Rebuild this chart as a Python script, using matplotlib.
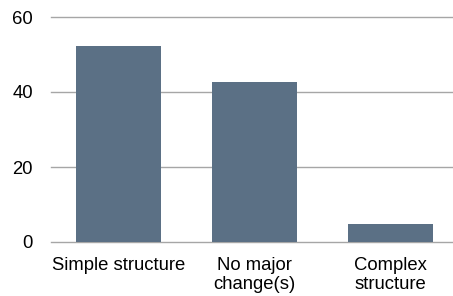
import matplotlib
matplotlib.use('Agg')
import matplotlib.pyplot as plt

# Datos del gráfico
categorias = ['Simple structure', 'No major\nchange(s)', 'Complex\nstructure']
valores = [52.3, 42.8, 4.7]
ticks_y = [0, 20, 40, 60]

plt.rcParams['font.family'] = ['Liberation Sans', 'DejaVu Sans']

fig = plt.figure(figsize=(4.53, 2.96), dpi=100)
ax = fig.add_axes([51/453, 1 - 242/296, 1 - 51/453, 225/296])

posiciones = range(len(categorias))
ax.bar(posiciones, valores, width=0.625, color='#5B7085', zorder=3)

# Cuadrícula horizontal
for t in ticks_y:
    ax.axhline(t, color='#A6A6A6', linewidth=1, zorder=1, clip_on=False)

ax.set_ylim(0, 60)
ax.set_xlim(-0.496, 2.46)
ax.set_yticks(ticks_y)
ax.set_xticks(list(posiciones))
ax.set_xticklabels(categorias, fontsize=13.3, linespacing=1.15)
ax.tick_params(axis='y', length=0, pad=13, labelsize=13.3)
ax.tick_params(axis='x', length=0, pad=11)
for lado in ax.spines.values():
    lado.set_visible(False)

fig.savefig('out.png', dpi=100)
